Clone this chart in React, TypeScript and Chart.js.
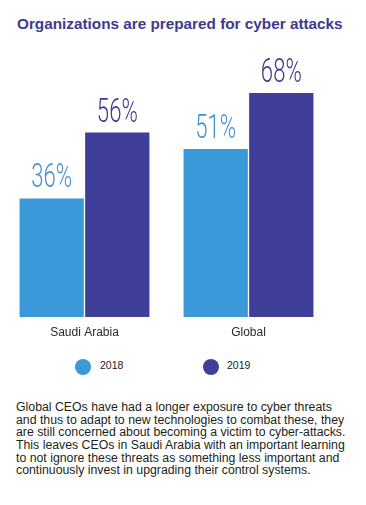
import React, { useEffect, useRef } from "react";
import { Chart, registerables } from "chart.js";

Chart.register(...registerables);

const categories = ["Saudi Arabia", "Global"];
const seriesNames = ["2018", "2019"];
const values2018 = [36, 51];
const values2019 = [56, 68];
const barColors = ["#3a99d8", "#3f3e98"];
const valueLabelColors = ["#4791d0", "#3d3b8e"];
const titleText = "Organizations are prepared for cyber attacks";
const bodyLines = [
  "Global CEOs have had a longer exposure to cyber threats",
  "and thus to adapt to new technologies to combat these, they",
  "are still concerned about becoming a victim to cyber-attacks.",
  "This leaves CEOs in Saudi Arabia with an important learning",
  "to not ignore these threats as something less important and",
  "continuously invest in upgrading their control systems.",
];

const valueLabelPlugin = {
  id: "valueLabels",
  afterDatasetsDraw(chart: any) {
    const ctx = chart.ctx;
    chart.data.datasets.forEach((ds: any, di: number) => {
      const meta = chart.getDatasetMeta(di);
      meta.data.forEach((bar: any, i: number) => {
        const v = ds.data[i];
        ctx.save();
        ctx.translate(bar.x, bar.y - 11);
        ctx.scale(0.67, 1);
        ctx.font = "300 33px Roboto";
        ctx.fillStyle = valueLabelColors[di];
        ctx.textAlign = "center";
        ctx.textBaseline = "alphabetic";
        ctx.fillText(v + "%", 0, 0);
        ctx.restore();
      });
    });
  },
};

export default function App() {
  const canvasRef = useRef<HTMLCanvasElement>(null);

  useEffect(() => {
    if (!canvasRef.current) return;
    const chart = new Chart(canvasRef.current, {
      type: "bar",
      data: {
        labels: categories,
        datasets: [
          {
            label: seriesNames[0],
            data: values2018,
            backgroundColor: barColors[0],
            borderWidth: 0,
          },
          {
            label: seriesNames[1],
            data: values2019,
            backgroundColor: barColors[1],
            borderWidth: 0,
          },
        ],
      },
      options: {
        responsive: false,
        animation: false,
        layout: { padding: { left: 2.5, right: 35.5, top: 53.6, bottom: 6.6 } },
        datasets: {
          bar: { categoryPercentage: 0.8, barPercentage: 0.98 },
        } as any,
        plugins: {
          legend: { display: false },
          title: { display: false },
          tooltip: { enabled: false },
        },
        scales: {
          x: {
            grid: { display: false, drawTicks: false },
            border: { display: false },
            ticks: {
              padding: 8,
              color: "#2a2a2a",
              font: { family: "'Liberation Sans', Arial, sans-serif", size: 12 },
            },
          },
          y: {
            display: false,
            min: 0,
            max: 80,
          },
        },
      },
      plugins: [valueLabelPlugin],
    });
    return () => chart.destroy();
  }, []);

  const legendItems = [
    { cx: 83, tx: 100, color: barColors[0], text: seriesNames[0] },
    { cx: 210.5, tx: 227, color: barColors[1], text: seriesNames[1] },
  ];

  return (
    <div
      style={{
        position: "absolute",
        left: 0,
        top: 0,
        width: 366,
        height: 505,
        background: "#fff",
        fontFamily: "'Liberation Sans', Arial, sans-serif",
      }}
    >
      <div
        style={{
          position: "absolute",
          left: 17,
          top: 16,
          fontSize: 15.3,
          lineHeight: "15.3px",
          fontWeight: 700,
          color: "#3d3b8e",
          whiteSpace: "nowrap",
        }}
      >
        {titleText}
      </div>
      <canvas
        ref={canvasRef}
        width={366}
        height={354}
        style={{ position: "absolute", left: 0, top: 0, width: 366, height: 354 }}
      />
      {legendItems.map((it) => (
        <React.Fragment key={it.text}>
          <div
            style={{
              position: "absolute",
              left: it.cx - 8,
              top: 359,
              width: 16,
              height: 16,
              borderRadius: "50%",
              background: it.color,
            }}
          />
          <div
            style={{
              position: "absolute",
              left: it.tx,
              top: 359.6,
              fontSize: 10.5,
              lineHeight: "10.5px",
              color: "#222",
              whiteSpace: "nowrap",
            }}
          >
            {it.text}
          </div>
        </React.Fragment>
      ))}
      <div
        style={{
          position: "absolute",
          left: 16,
          top: 401.2,
          fontSize: 12.3,
          lineHeight: "12.6px",
          color: "#231f20",
          whiteSpace: "nowrap",
        }}
      >
        {bodyLines.map((l, i) => (
          <React.Fragment key={i}>
            {l}
            {i < bodyLines.length - 1 && <br />}
          </React.Fragment>
        ))}
      </div>
    </div>
  );
}
